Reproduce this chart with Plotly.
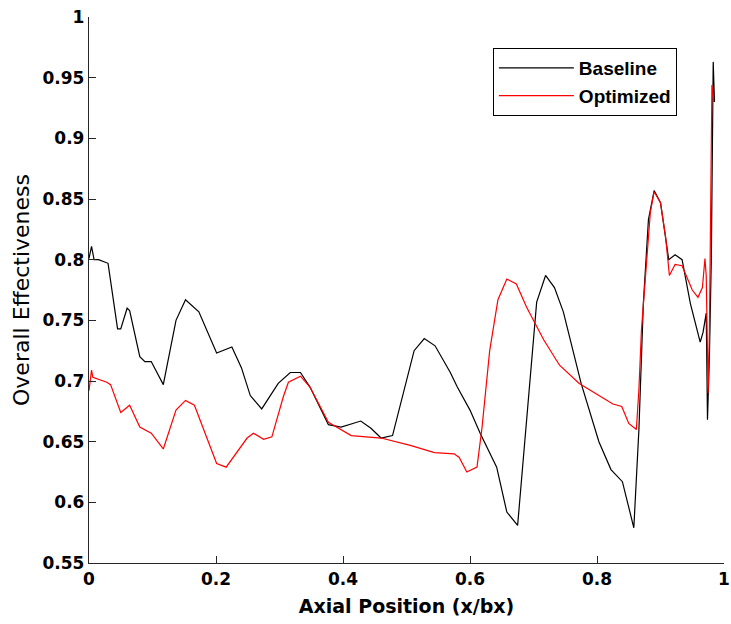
import plotly.graph_objects as go

# ---- data ----
baseline_x = [0.000, 0.004, 0.008, 0.015, 0.030, 0.045, 0.050, 0.060, 0.064, 0.080,
              0.088, 0.098, 0.117, 0.137, 0.152, 0.173, 0.201, 0.225, 0.240, 0.254,
              0.272, 0.298, 0.317, 0.333, 0.348, 0.377, 0.397, 0.428, 0.444, 0.460,
              0.478, 0.512, 0.528, 0.545, 0.569, 0.580, 0.600, 0.616, 0.642, 0.658,
              0.675, 0.705, 0.719, 0.733, 0.747, 0.775, 0.803, 0.822, 0.840, 0.858,
              0.866, 0.873, 0.881, 0.890, 0.900, 0.913, 0.923, 0.934, 0.947, 0.9625,
              0.967, 0.972, 0.974, 0.977, 0.980, 0.983, 0.985]
baseline_y = [0.801, 0.811, 0.800, 0.800, 0.797, 0.743, 0.743, 0.760, 0.758, 0.720,
              0.716, 0.716, 0.697, 0.750, 0.767, 0.757, 0.723, 0.728, 0.711, 0.688,
              0.677, 0.698, 0.707, 0.707, 0.695, 0.664, 0.662, 0.667, 0.661, 0.653,
              0.655, 0.725, 0.735, 0.729, 0.707, 0.695, 0.676, 0.657, 0.629, 0.592,
              0.581, 0.765, 0.787, 0.777, 0.757, 0.698, 0.650, 0.627, 0.617, 0.579,
              0.660, 0.764, 0.833, 0.857, 0.847, 0.800, 0.804, 0.800, 0.764, 0.732,
              0.740, 0.756, 0.668, 0.720, 0.800, 0.963, 0.930]

optimized_x = [0.000, 0.004, 0.006, 0.028, 0.034, 0.050, 0.064, 0.080, 0.098, 0.117,
               0.137, 0.152, 0.166, 0.201, 0.216, 0.249, 0.259, 0.275, 0.288, 0.306,
               0.314, 0.333, 0.348, 0.377, 0.413, 0.460, 0.506, 0.544, 0.575, 0.583,
               0.595, 0.611, 0.619, 0.631, 0.644, 0.658, 0.673, 0.689, 0.716, 0.741,
               0.772, 0.802, 0.825, 0.839, 0.850, 0.862, 0.866, 0.870, 0.878, 0.884,
               0.890, 0.900, 0.908, 0.914, 0.923, 0.934, 0.950, 0.959, 0.966, 0.970,
               0.972, 0.975, 0.977, 0.981, 0.984]
optimized_y = [0.692, 0.709, 0.703, 0.699, 0.697, 0.674, 0.680, 0.662, 0.657, 0.644,
               0.676, 0.684, 0.680, 0.632, 0.629, 0.653, 0.657, 0.652, 0.654, 0.687,
               0.699, 0.704, 0.695, 0.666, 0.655, 0.653, 0.647, 0.641, 0.640, 0.637,
               0.625, 0.629, 0.662, 0.725, 0.767, 0.784, 0.780, 0.761, 0.734, 0.713,
               0.698, 0.688, 0.681, 0.679, 0.665, 0.660, 0.693, 0.742, 0.800, 0.839,
               0.856, 0.847, 0.819, 0.787, 0.796, 0.795, 0.775, 0.769, 0.777, 0.801,
               0.787, 0.690, 0.740, 0.944, 0.930]

x_tickvals = [0, 0.2, 0.4, 0.6, 0.8, 1]
x_ticktext = ["0", "0.2", "0.4", "0.6", "0.8", "1"]
y_tickvals = [0.55, 0.6, 0.65, 0.7, 0.75, 0.8, 0.85, 0.9, 0.95, 1]
y_ticktext = ["0.55", "0.6", "0.65", "0.7", "0.75", "0.8", "0.85", "0.9", "0.95", "1"]

fig = go.Figure()
fig.add_trace(go.Scatter(x=baseline_x, y=baseline_y, mode="lines", name="Baseline",
                         line=dict(color="#000000", width=1.2)))
fig.add_trace(go.Scatter(x=optimized_x, y=optimized_y, mode="lines", name="Optimized",
                         line=dict(color="#ff0000", width=1.2)))

tick_font = dict(family="DejaVu Sans", size=17, color="#000", weight="bold")
axis_common = dict(showgrid=False, zeroline=False, showline=True, linecolor="#262626",
                   linewidth=1.3, ticks="inside", ticklen=7, tickcolor="#262626",
                   tickwidth=1.3, mirror=False, tickfont=tick_font,
                   ticklabeloverflow="allow")

fig.update_xaxes(range=[0, 1], tickvals=x_tickvals, ticktext=x_ticktext,
                 title=dict(text="<b>Axial Position (x/bx)</b>", standoff=12,
                            font=dict(family="DejaVu Sans", size=19, color="#000")),
                 **axis_common)
fig.update_yaxes(range=[0.55, 1], tickvals=y_tickvals, ticktext=y_ticktext,
                 title=dict(text="Overall Effectiveness", standoff=6,
                            font=dict(family="DejaVu Sans", size=22, color="#000")),
                 **axis_common)

fig.update_layout(
    width=731, height=624,
    margin=dict(l=89, r=7, t=17, b=61, autoexpand=False),
    plot_bgcolor="white", paper_bgcolor="white",
    legend=dict(x=0.636, y=0.943, xanchor="left", yanchor="top",
                bgcolor="white", bordercolor="#000", borderwidth=1,
                itemwidth=75, tracegroupgap=0,
                font=dict(family="Liberation Sans", size=19, color="#000", weight="bold")),
)

fig.write_html("out.html", config={"displayModeBar": False},
               post_script="document.body.style.margin='0';document.body.style.overflow='hidden';")
